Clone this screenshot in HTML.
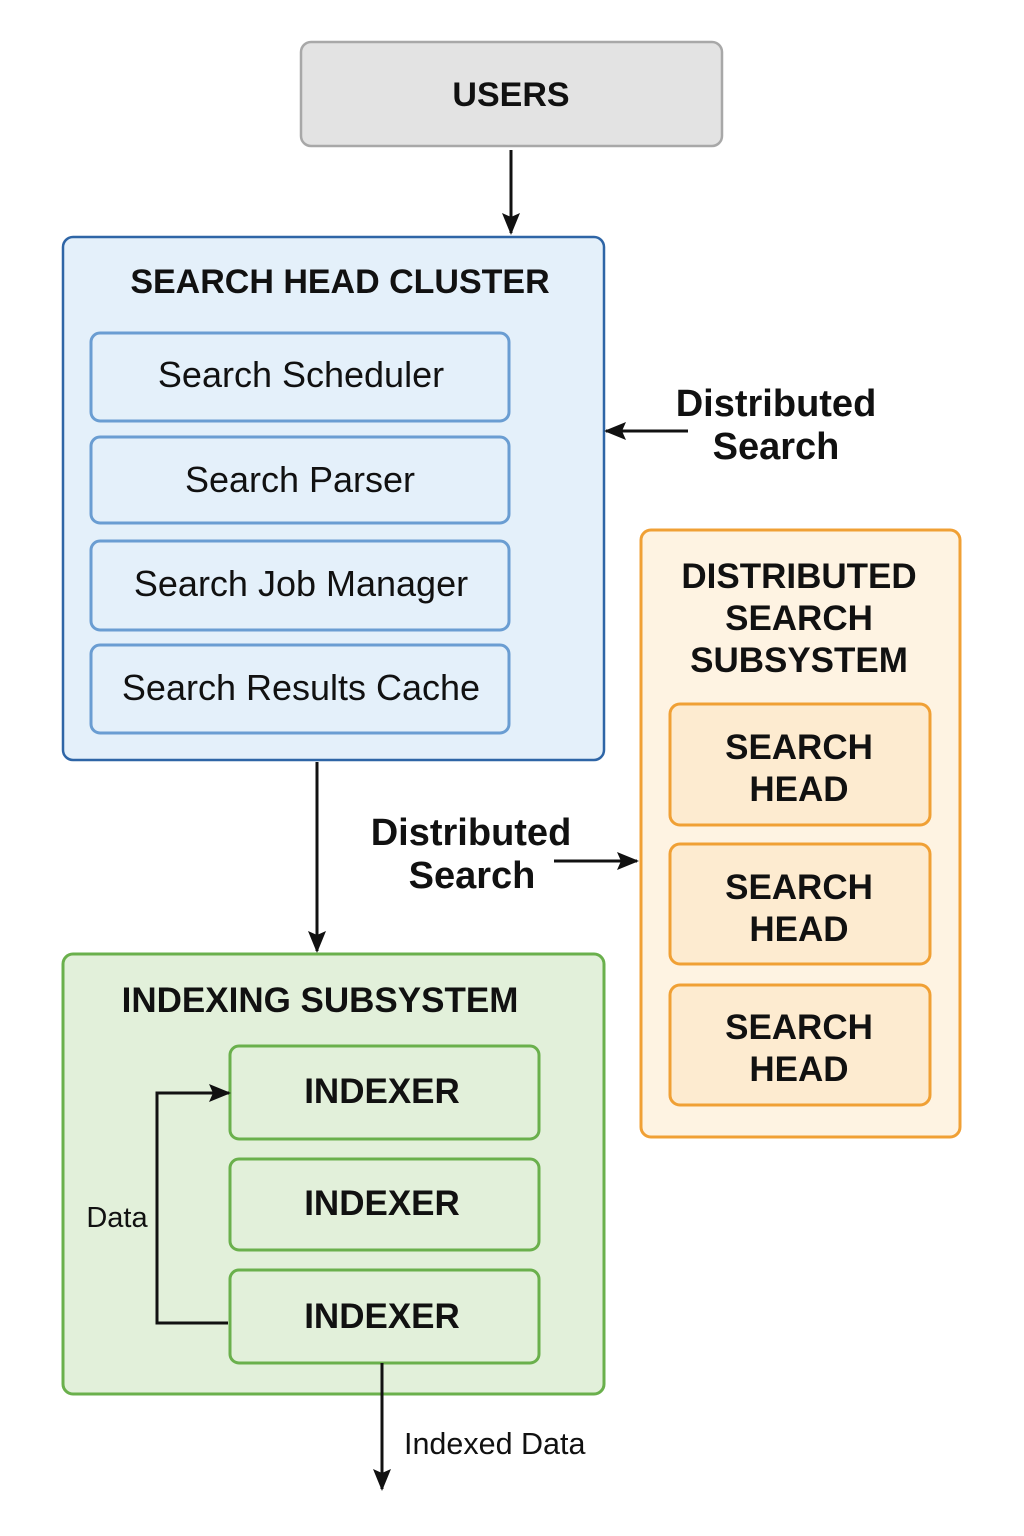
<!DOCTYPE html>
<html><head><meta charset="utf-8"><style>
html,body{margin:0;padding:0;background:#fff;}
svg{display:block;}
text{font-family:"Liberation Sans",sans-serif;fill:#111;text-anchor:middle;}
.b{font-weight:bold;}
</style></head><body>
<svg width="1024" height="1536" viewBox="0 0 1024 1536" xmlns="http://www.w3.org/2000/svg">
<defs>
<marker id="a2" markerWidth="22" markerHeight="22" refX="20" refY="11" orient="auto" markerUnits="userSpaceOnUse" viewBox="0 0 22 22">
<path d="M0,2 L22,11 L0,20 L4,11 z" fill="#111"/></marker>
</defs>
<!-- USERS -->
<rect x="301" y="42" width="421" height="104" rx="10" fill="#e3e3e3" stroke="#a8a8a8" stroke-width="2.5"/>
<text x="511" y="106" class="b" font-size="34">USERS</text>
<line x1="511" y1="150" x2="511" y2="233" stroke="#111" stroke-width="3" marker-end="url(#a2)"/>

<!-- Search head cluster -->
<rect x="63" y="237" width="541" height="523" rx="10" fill="#e4f0fa" stroke="#2e65a6" stroke-width="2.5"/>
<text x="340" y="293" class="b" font-size="34">SEARCH HEAD CLUSTER</text>
<g fill="#e4f0fa" stroke="#6a9dd2" stroke-width="3">
<rect x="91" y="333" width="418" height="88" rx="9"/>
<rect x="91" y="437" width="418" height="86" rx="9"/>
<rect x="91" y="541" width="418" height="89" rx="9"/>
<rect x="91" y="645" width="418" height="88" rx="9"/>
</g>
<g font-size="36">
<text x="301" y="387">Search Scheduler</text>
<text x="300" y="492">Search Parser</text>
<text x="301" y="596">Search Job Manager</text>
<text x="301" y="700">Search Results Cache</text>
</g>

<line x1="688" y1="431" x2="606" y2="431" stroke="#111" stroke-width="3" marker-end="url(#a2)"/>
<text x="776" y="416" class="b" font-size="38">Distributed</text>
<text x="776" y="459" class="b" font-size="38">Search</text>

<!-- Distributed subsystem -->
<rect x="641" y="530" width="319" height="607" rx="10" fill="#fef3e2" stroke="#f0a035" stroke-width="3"/>
<g class="b" font-size="35">
<text x="799" y="588">DISTRIBUTED</text>
<text x="799" y="630">SEARCH</text>
<text x="799" y="672">SUBSYSTEM</text>
</g>
<g fill="#fdebd0" stroke="#f0a035" stroke-width="3">
<rect x="670" y="704" width="260" height="121" rx="10"/>
<rect x="670" y="844" width="260" height="120" rx="10"/>
<rect x="670" y="985" width="260" height="120" rx="10"/>
</g>
<g class="b" font-size="35">
<text x="799" y="759">SEARCH</text><text x="799" y="801">HEAD</text>
<text x="799" y="899">SEARCH</text><text x="799" y="941">HEAD</text>
<text x="799" y="1039">SEARCH</text><text x="799" y="1081">HEAD</text>
</g>

<line x1="317" y1="762" x2="317" y2="951" stroke="#111" stroke-width="3" marker-end="url(#a2)"/>
<text x="471" y="845" class="b" font-size="38">Distributed</text>
<text x="472" y="888" class="b" font-size="38">Search</text>
<line x1="554" y1="861" x2="637" y2="861" stroke="#111" stroke-width="3" marker-end="url(#a2)"/>

<!-- Indexing -->
<rect x="63" y="954" width="541" height="440" rx="10" fill="#e2f0da" stroke="#6ab04c" stroke-width="3"/>
<text x="320" y="1012" class="b" font-size="35">INDEXING SUBSYSTEM</text>
<g fill="#e2f0da" stroke="#6ab04c" stroke-width="3">
<rect x="230" y="1046" width="309" height="93" rx="9"/>
<rect x="230" y="1159" width="309" height="91" rx="9"/>
<rect x="230" y="1270" width="309" height="93" rx="9"/>
</g>
<g class="b" font-size="35">
<text x="382" y="1103">INDEXER</text>
<text x="382" y="1215">INDEXER</text>
<text x="382" y="1328">INDEXER</text>
</g>
<polyline points="228,1323 157,1323 157,1093 229,1093" fill="none" stroke="#111" stroke-width="3" marker-end="url(#a2)"/>
<text x="117" y="1227" font-size="29">Data</text>
<line x1="382" y1="1363" x2="382" y2="1489" stroke="#111" stroke-width="3" marker-end="url(#a2)"/>
<text x="404" y="1454" font-size="30.5" style="text-anchor:start">Indexed Data</text>
</svg>
</body></html>
